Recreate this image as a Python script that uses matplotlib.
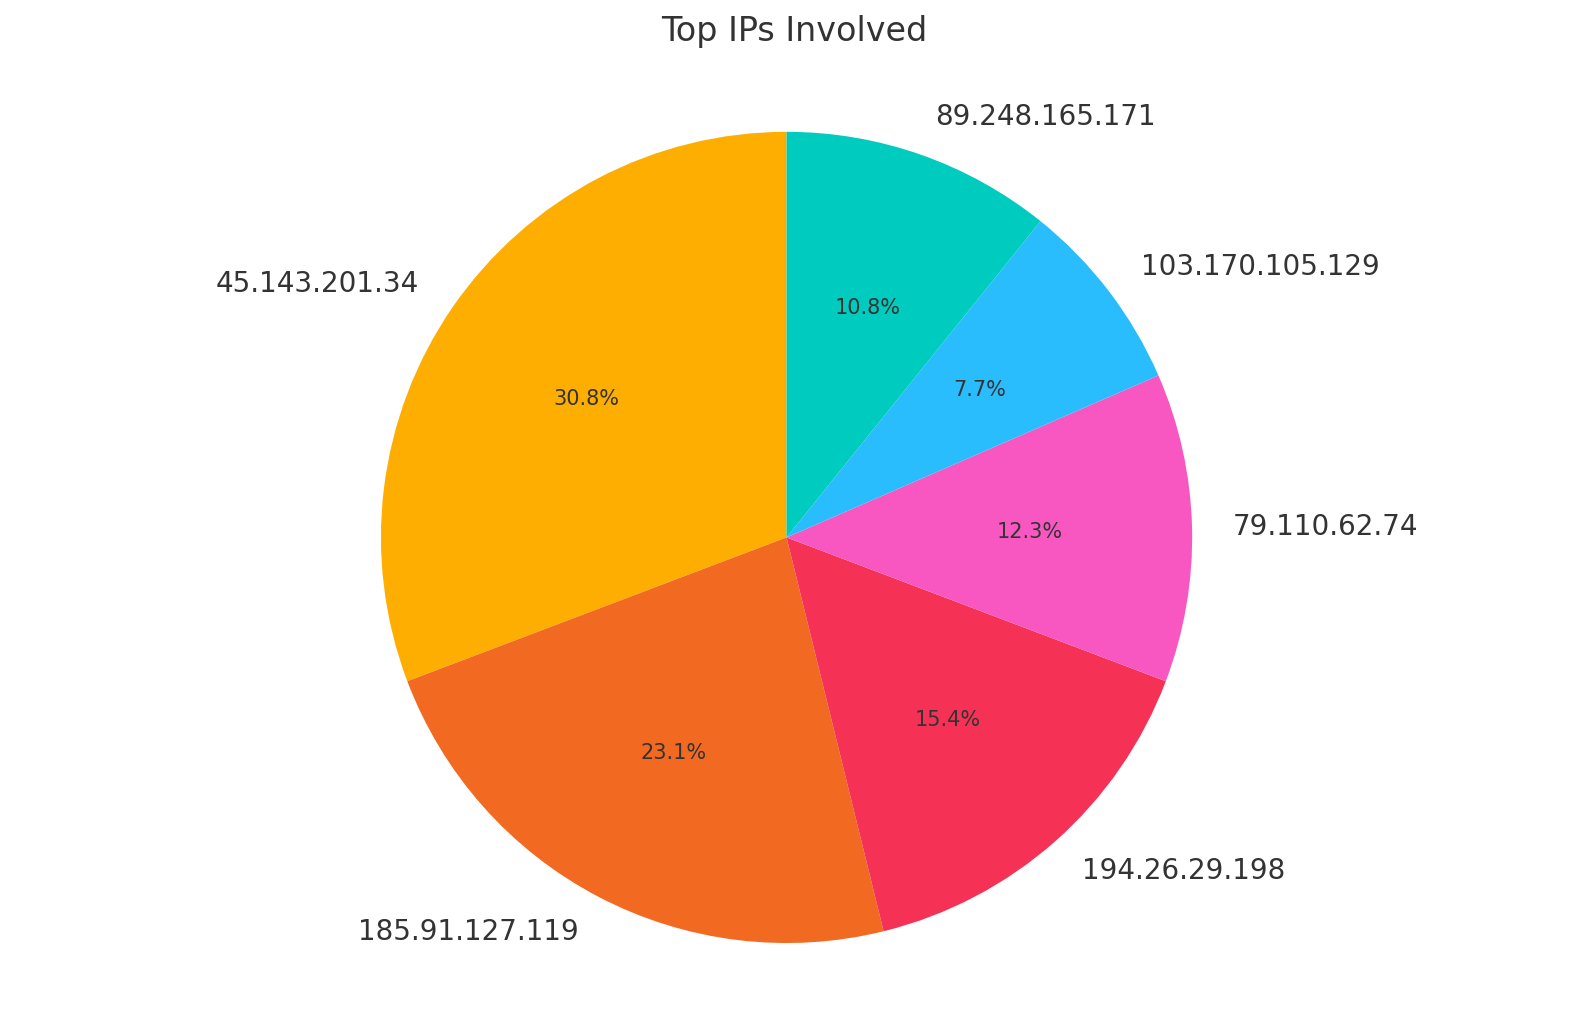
import matplotlib
matplotlib.use("Agg")
import matplotlib.pyplot as plt

labels = ["45.143.201.34", "185.91.127.119", "194.26.29.198", "79.110.62.74", "103.170.105.129", "89.248.165.171"]
counts = [20, 15, 10, 8, 5, 7]
colors = ["#FEAE00", "#F26A22", "#F53255", "#F857C1", "#29BDFD", "#00CBBF"]

fig = plt.figure(figsize=(15.89, 10.14), dpi=100)
ax = fig.add_axes([0.03, 0.03, 0.93, 0.88])
wedges, texts, autotexts = ax.pie(counts, labels=labels, colors=colors, autopct="%1.1f%%",
                                  startangle=90, labeldistance=1.1,
                                  textprops={"color": "#333333", "fontsize": 20})
for t in autotexts:
    t.set_fontsize(15)
ax.axis("equal")
fig.suptitle("Top IPs Involved", fontsize=24, color="#333333", y=0.985)
fig.savefig("out.png", dpi=100)
